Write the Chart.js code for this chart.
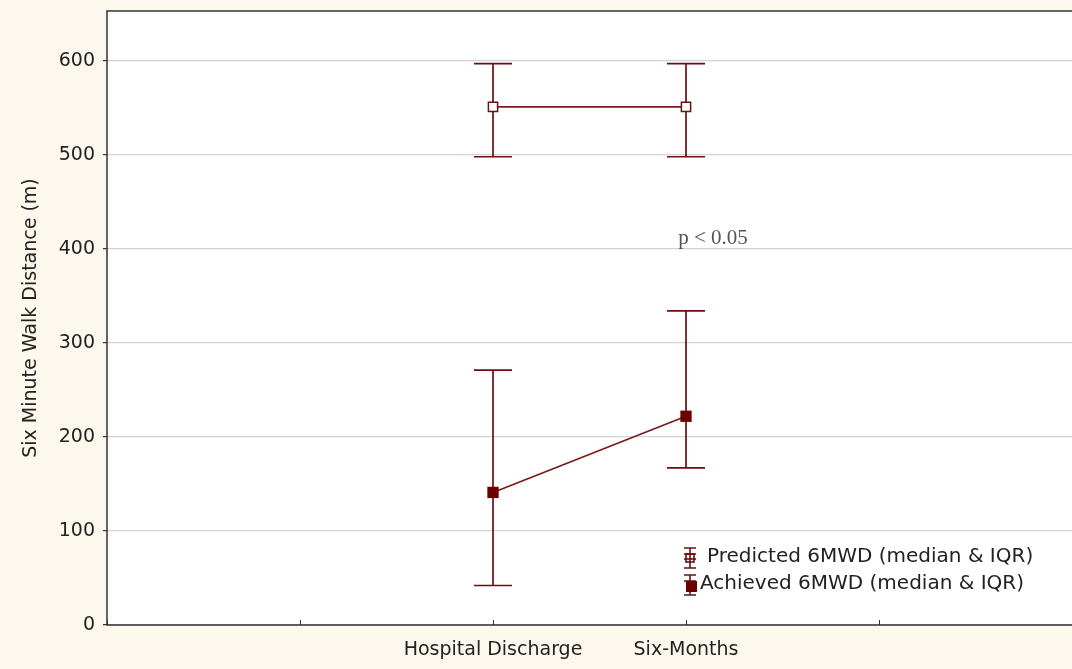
<!DOCTYPE html>
<html>
<head>
<meta charset="utf-8">
<script src="https://cdn.jsdelivr.net/npm/chart.js@4.4.1/dist/chart.umd.min.js"></script>
<style>
  body { margin: 0; background: #fcf8ed; }
</style>
</head>
<body>
<canvas id="chart" width="1072" height="669"></canvas>
<script>
// values
const categories = ['Hospital Discharge', 'Six-Months'];
const catPositions = [2, 3];
const predictedMedian = [551, 551];
const predictedQ1 = [498, 498];
const predictedQ3 = [597, 597];
const achievedMedian = [141, 222];
const achievedQ1 = [42, 167];
const achievedQ3 = [271, 334];
const yTicks = [0, 100, 200, 300, 400, 500, 600];
const legendLabels = ['Predicted 6MWD (median & IQR)', 'Achieved 6MWD (median & IQR)'];
const note = { x: 3.14, y: 411, text: 'p < 0.05' };

const barColor = '#6a1010';
const textColor = '#222';

function points(med) {
  return med.map((v, i) => ({ x: catPositions[i], y: v }));
}

const series = [
  { med: predictedMedian, lo: predictedQ1, hi: predictedQ3 },
  { med: achievedMedian, lo: achievedQ1, hi: achievedQ3 }
];

const backdrop = {
  id: 'backdrop',
  beforeDraw(chart) {
    const { ctx, chartArea: a } = chart;
    ctx.save();
    ctx.fillStyle = '#fcf8ed';
    ctx.fillRect(0, 0, chart.width, chart.height);
    ctx.fillStyle = '#ffffff';
    ctx.fillRect(a.left, a.top, a.right - a.left, a.bottom - a.top);
    ctx.restore();
  },
  afterDraw(chart) {
    const { ctx, chartArea: a, scales } = chart;
    ctx.save();
    ctx.strokeStyle = '#333';
    ctx.lineWidth = 1.5;
    // frame: top, left, bottom (right edge falls off the picture)
    ctx.beginPath();
    ctx.moveTo(a.right, a.top);
    ctx.lineTo(a.left, a.top);
    ctx.lineTo(a.left, a.bottom);
    ctx.lineTo(a.right, a.bottom);
    ctx.stroke();
    // inward ticks on the x axis
    ctx.lineWidth = 1;
    for (let v = 0; v <= 5; v++) {
      const x = Math.round(scales.x.getPixelForValue(v)) + 0.5;
      ctx.beginPath();
      ctx.moveTo(x, a.bottom);
      ctx.lineTo(x, a.bottom - 5);
      ctx.stroke();
    }
    // p value note
    ctx.fillStyle = '#555';
    ctx.font = '21px "Liberation Serif", serif';
    ctx.textAlign = 'center';
    ctx.textBaseline = 'middle';
    ctx.fillText(note.text, scales.x.getPixelForValue(note.x), scales.y.getPixelForValue(note.y));

    // legend
    const lx = scales.x.getPixelForValue(3) + 4;
    const rows = [558, 585];
    ctx.font = '20px "DejaVu Sans", sans-serif';
    ctx.textAlign = 'left';
    rows.forEach((ry, i) => {
      ctx.strokeStyle = barColor;
      ctx.lineWidth = 1.6;
      ctx.beginPath();
      ctx.moveTo(lx, ry - 10); ctx.lineTo(lx, ry + 10);
      ctx.moveTo(lx - 6, ry - 10); ctx.lineTo(lx + 6, ry - 10);
      ctx.moveTo(lx - 6, ry + 10); ctx.lineTo(lx + 6, ry + 10);
      ctx.moveTo(lx - 6, ry - 4); ctx.lineTo(lx + 6, ry - 4);
      ctx.stroke();
      if (i === 0) {
        ctx.beginPath();
        ctx.moveTo(lx - 6, ry + 1); ctx.lineTo(lx + 6, ry + 1);
        ctx.stroke();
        ctx.strokeRect(lx - 4, ry - 4, 8, 8);
      } else {
        ctx.fillStyle = '#6b0000';
        ctx.fillRect(lx - 4, ry - 4, 11, 11);
      }
      ctx.fillStyle = textColor;
      ctx.fillText(legendLabels[i], lx + (i === 0 ? 17 : 10), ry - 1);
    });
    ctx.restore();
  }
};

const errorBars = {
  id: 'errorBars',
  beforeDatasetsDraw(chart) {
    const { ctx, scales } = chart;
    ctx.save();
    ctx.strokeStyle = barColor;
    ctx.lineWidth = 1.7;
    series.forEach(s => {
      s.med.forEach((m, i) => {
        const x = scales.x.getPixelForValue(catPositions[i]);
        const yl = scales.y.getPixelForValue(s.lo[i]);
        const yh = scales.y.getPixelForValue(s.hi[i]);
        ctx.beginPath();
        ctx.moveTo(x, yl); ctx.lineTo(x, yh);
        ctx.moveTo(x - 19, yl); ctx.lineTo(x + 19, yl);
        ctx.moveTo(x - 19, yh); ctx.lineTo(x + 19, yh);
        ctx.stroke();
      });
    });
    ctx.restore();
  }
};

new Chart(document.getElementById('chart'), {
  type: 'line',
  data: {
    datasets: [
      {
        label: legendLabels[0],
        data: points(predictedMedian),
        borderColor: '#7a1c1c',
        borderWidth: 1.7,
        pointStyle: 'rect',
        pointRadius: 6.5,
        pointBorderWidth: 1.5,
        pointBorderColor: '#6a1010',
        pointBackgroundColor: '#ffffff'
      },
      {
        label: legendLabels[1],
        data: points(achievedMedian),
        borderColor: '#7a1c1c',
        borderWidth: 1.7,
        pointStyle: 'rect',
        pointRadius: 8,
        pointBorderWidth: 0,
        pointBackgroundColor: '#6b0000'
      }
    ]
  },
  options: {
    responsive: false,
    animation: false,
    layout: { autoPadding: false, padding: { left: 0, top: 11, right: 0, bottom: 0 } },
    plugins: { legend: { display: false }, tooltip: { enabled: false } },
    scales: {
      x: {
        type: 'linear',
        min: 0,
        max: 5,
        afterFit(s) { s.height = 44; s.paddingLeft = 0; s.paddingRight = 0; },
        afterBuildTicks(s) { s.ticks = [0, 1, 2, 3, 4, 5].map(v => ({ value: v })); },
        ticks: {
          autoSkip: false,
          maxRotation: 0,
          padding: 6,
          color: textColor,
          font: { family: 'DejaVu Sans', size: 19 },
          callback(v) {
            const i = catPositions.indexOf(v);
            return i >= 0 ? categories[i] : '';
          }
        },
        grid: { display: false },
        border: { display: false }
      },
      y: {
        min: 0,
        max: 653,
        afterFit(s) { s.width = 107; s.paddingTop = 0; s.paddingBottom = 0; },
        afterBuildTicks(s) { s.ticks = yTicks.map(v => ({ value: v })); },
        ticks: {
          padding: 8,
          color: textColor,
          font: { family: 'DejaVu Sans', size: 19 }
        },
        grid: { color: '#d2d2d2', lineWidth: 1.2, tickLength: 4, tickColor: '#333' },
        border: { display: false },
        title: {
          display: true,
          text: 'Six Minute Walk Distance (m)',
          color: textColor,
          font: { family: 'DejaVu Sans', size: 19 },
          padding: { top: 20, bottom: 4 }
        }
      }
    }
  },
  plugins: [backdrop, errorBars]
});
</script>
</body>
</html>
